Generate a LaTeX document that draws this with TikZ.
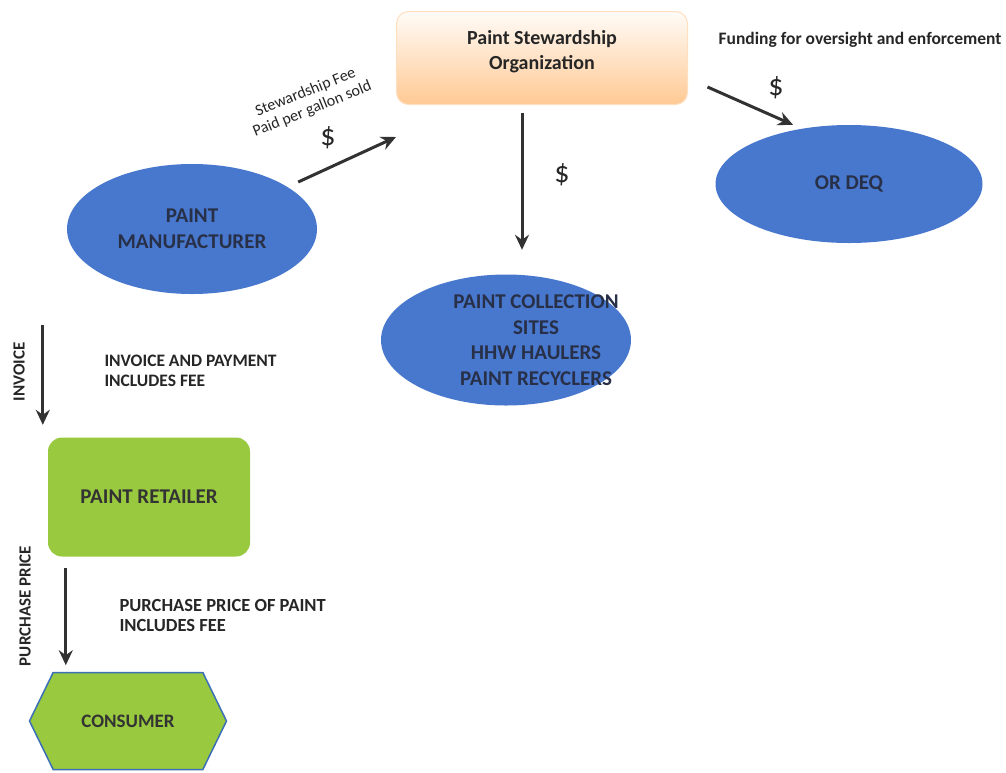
\documentclass[tikz,border=0pt]{standalone}
\usepackage{fontspec}
\setmainfont{Carlito}
\usetikzlibrary{shapes.geometric,shapes.symbols,positioning,arrows.meta}
\definecolor{ovalblue}{RGB}{72,119,206}
\definecolor{leafgreen}{RGB}{152,201,62}
\definecolor{hexblue}{RGB}{59,111,182}
\definecolor{inkgrey}{RGB}{40,48,72}
\definecolor{arrowgrey}{RGB}{50,50,50}
\tikzset{
party/.style={ellipse, fill=ovalblue, text=inkgrey, inner sep=0pt, text centered, align=center, font=\bfseries\fontsize{21}{25.5}\selectfont},
shop/.style={rectangle, rounded corners=14pt, fill=leafgreen, text=black!80, minimum width=202pt, minimum height=119pt, font=\bfseries\fontsize{21}{25.5}\selectfont},
hexa/.style={signal, signal to=west and east, signal pointer angle=128, fill=leafgreen, draw=hexblue, line width=1.5pt, text=black!80, minimum width=197pt, minimum height=97pt, font=\bfseries\fontsize{19}{23}\selectfont},
orgbox/.style={rectangle, rounded corners=12pt, top color=orange!3, bottom color=orange!42, draw=orange!25, line width=1pt, align=center, text=black!85, minimum width=291pt, minimum height=93pt, font=\bfseries\fontsize{20}{24.5}\selectfont},
note/.style={align=left, text=black!85, font=\bfseries\fontsize{17.5}{20}\selectfont},
sidetag/.style={rotate=90, text=black!85, font=\bfseries\fontsize{17}{20}\selectfont},
cash/.style={text=black!85, font=\fontsize{30}{34}\selectfont},
arrow/.style={line width=3pt, draw=arrowgrey, ->, >={Stealth[length=15pt,width=14pt,inset=5pt]}}}

\begin{document}
\begin{tikzpicture}[x=1pt, y=-1pt]
\useasboundingbox (0,0) rectangle (1006,772);
\node (org) [orgbox] at (542,58) {Paint Stewardship\\Organization\\[-8pt]};
\node (maker) [party, minimum width=250pt, minimum height=130pt] at (192,229) {PAINT\\MANUFACTURER};
\node (sites) [party, minimum width=250pt, minimum height=131pt] at (506,340) {};
\node (sitestext) [party, fill=none] at ([xshift=30pt]sites.center) {PAINT COLLECTION\\SITES\\HHW HAULERS\\PAINT RECYCLERS};
\node (deq) [party, minimum width=267pt, minimum height=118pt] at (849,184) {OR DEQ};
\node (retailer) [shop] at (149,497) {PAINT RETAILER};
\node (consumer) [hexa] at (128,721) {CONSUMER};

% arrow ends
\coordinate (feefrom) at ([xshift=-19pt,yshift=47pt]maker.east);
\coordinate (feeto) at ([yshift=-79pt]org.west);
\coordinate (downfrom) at ([xshift=-20pt,yshift=-7.5pt]org.south);
\coordinate (downto) at ([xshift=16pt,yshift=24.5pt]sites.north);
\coordinate (fundfrom) at ([xshift=19.5pt,yshift=-29pt]org.east);
\coordinate (fundto) at ([xshift=-56pt]deq.north);
\coordinate (invto) at ([xshift=-5pt,yshift=12.5pt]retailer.north west);
\coordinate [above=100pt of invto] (invfrom);
\coordinate (buyfrom) at ([xshift=18pt,yshift=-11.5pt]retailer.south west);
\coordinate [below=97pt of buyfrom] (buyto);

\draw [arrow] (feefrom) -- (feeto);
\draw [arrow] (downfrom) -- (downto);
\draw [arrow] (fundfrom) -- (fundto);
\draw [arrow] (invfrom) -- (invto);
\draw [arrow] (buyfrom) -- (buyto);

% labels
\node (feenote) [rotate=22, align=center, text=black!85, font=\fontsize{16}{18}\selectfont] at (309,101) {Stewardship Fee\\Paid per gallon sold};
\node (feecash) [cash] at (328,138) {\$};
\node (downcash) [cash] at (562,175) {\$};
\node (fundcash) [cash] at (776,88) {\$};
\node (fundnote) [note] at (860,40) {Funding for oversight and enforcement};
\node (invtag) [sidetag] at (19,372) {INVOICE};
\node (invnote) [note, anchor=west] at (101,371) {INVOICE AND PAYMENT\\INCLUDES FEE};
\node (pricetag) [sidetag] at (25,606) {PURCHASE PRICE};
\node (buynote) [note, anchor=west, font=\bfseries\fontsize{18.5}{20}\selectfont] at (116,615) {PURCHASE PRICE OF PAINT\\INCLUDES FEE};
\end{tikzpicture}
\end{document}
